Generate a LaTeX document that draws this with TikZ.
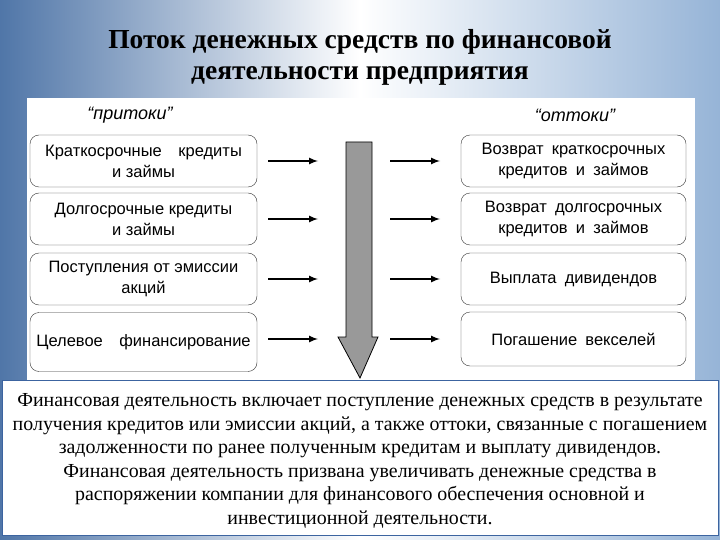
\documentclass[tikz,border=0pt]{standalone}
\usepackage{fontspec}
\setmainfont{Liberation Serif}
\newfontfamily\boxfont{Liberation Sans}
\begin{document}
\begin{tikzpicture}[x=1pt,y=-1pt,
  bx/.style={draw=black!80,rounded corners=9pt,fill=white,font=\boxfont\fontsize{16.5}{21}\selectfont,align=center,inner sep=0pt},
  ar/.style={-latex,line width=2pt,black},
  lbl/.style={font=\boxfont\itshape\fontsize{18}{20}\selectfont}]
\useasboundingbox (0,0) rectangle (720,540);
\shade[left color={rgb,255:red,80;green,118;blue,168},right color={rgb,255:red,150;green,180;blue,215},middle color=white] (0,0) rectangle (720,540);
\fill[white] (27,98) rectangle (695,380);
\node[font=\bfseries\fontsize{27.5}{31}\selectfont,align=center] (title) at (360,57) {Поток денежных средств по финансовой\\деятельности предприятия};
\node[lbl] (pin) at (130,115) {“притоки”};
\node[lbl] (pout) at (575,115) {“оттоки”};
\foreach \n/\y/\h/\t in {1/161/52/{Краткосрочные\quad кредиты\\и займы},2/219/52/{Долгосрочные кредиты\\и займы},3/279/52/{Поступления от эмиссии\\акций},4/342/59/{Целевое\quad финансирование}}{
  \node[bx,minimum width=227pt,minimum height=\h pt] (l\n) at (143.5,\y) {\t};
}
\foreach \n/\y/\h/\t in {1/161/52/{Возврат\enspace краткосрочных\\кредитов\enspace и\enspace займов},2/219/52/{Возврат\enspace долгосрочных\\кредитов\enspace и\enspace займов},3/279/52/{Выплата\enspace дивидендов},4/339/54/{Погашение\enspace векселей}}{
  \node[bx,minimum width=225pt,minimum height=\h pt] (r\n) at (573.5,\y) {\t};
}
\foreach \n/\y in {1/161,2/219,3/279,4/339}{
  \coordinate (a\n) at (268,\y); \coordinate (b\n) at (318,\y);
  \coordinate (c\n) at (390,\y); \coordinate (d\n) at (440,\y);
  \draw[ar] (a\n) -- (b\n);
  \draw[ar] (c\n) -- (d\n);
}
\draw[fill=black!40,line width=0.8pt] (346,142) -- (372,142) -- (372,337) -- (378,337) -- (360,378) -- (338,337) -- (346,337) -- cycle;
\node[draw={rgb,255:red,60;green,100;blue,160},fill=white,line width=1pt,minimum width=716pt,minimum height=155pt,inner sep=0pt] (tb) at (360,458) {};
\node[align=center,font=\fontsize{19.9}{23.6}\selectfont] (txt) at (360,461) {Финансовая деятельность включает поступление денежных средств в результате\\получения кредитов или эмиссии акций, а также оттоки, связанные с погашением\\задолженности по ранее полученным кредитам и выплату дивидендов.\\Финансовая деятельность призвана увеличивать денежные средства в\\распоряжении компании для финансового обеспечения основной и\\инвестиционной деятельности.};
\end{tikzpicture}
\end{document}
